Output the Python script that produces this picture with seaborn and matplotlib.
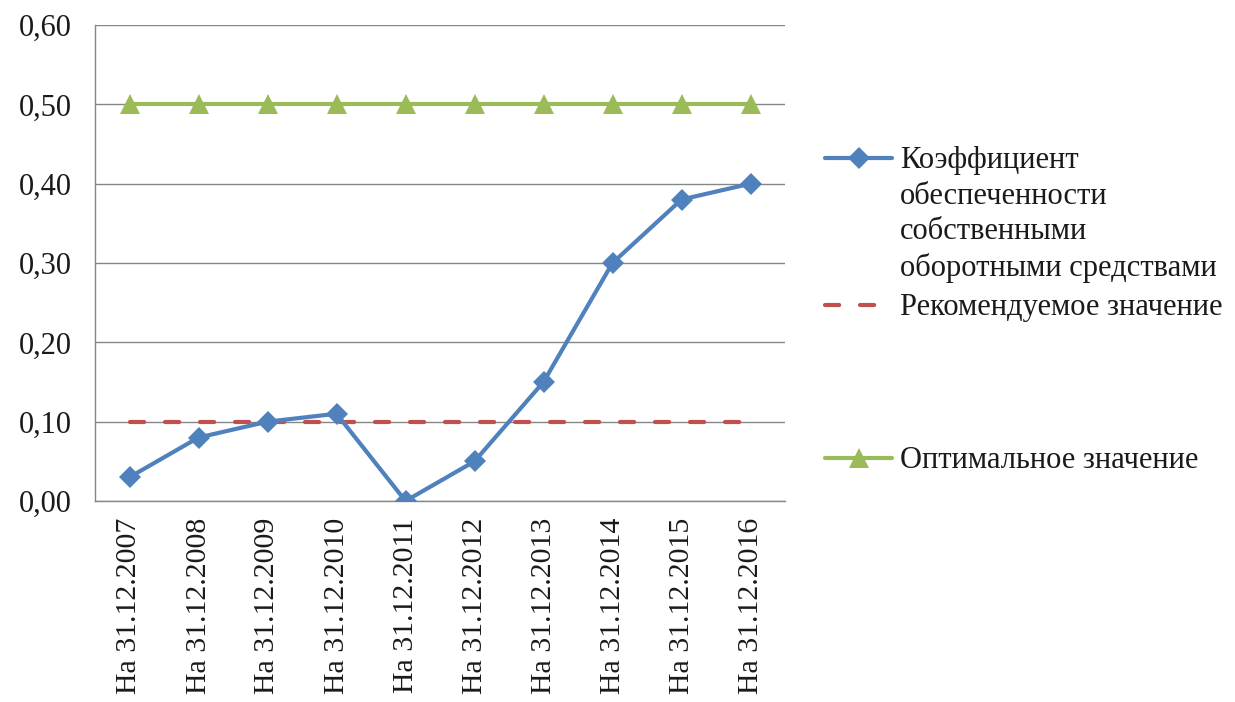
import matplotlib
matplotlib.use("Agg")
import matplotlib.pyplot as plt
from matplotlib.lines import Line2D
from matplotlib.ticker import FixedLocator, FuncFormatter, NullFormatter
import numpy as np
import pandas as pd
import seaborn as sns

categories = ["На 31.12.2007", "На 31.12.2008", "На 31.12.2009", "На 31.12.2010",
              "На 31.12.2011", "На 31.12.2012", "На 31.12.2013", "На 31.12.2014",
              "На 31.12.2015", "На 31.12.2016"]
coef_values = [0.03, 0.08, 0.10, 0.11, 0.00, 0.05, 0.15, 0.30, 0.38, 0.40]
recommended_values = [0.10] * 10
optimal_values = [0.50] * 10
y_ticks = [0.0, 0.1, 0.2, 0.3, 0.4, 0.5, 0.6]

series_names = ["Коэффициент\nобеспеченности\nсобственными\nоборотными средствами",
                "Рекомендуемое значение",
                "Оптимальное значение"]

BLUE = "#4F81BD"
RED = "#C0504D"
GREEN = "#9BBB59"
GRID = "#868686"
TEXT = "#1a1a1a"
FONT = ["Liberation Serif", "DejaVu Serif"]
FS = 22
RED_DASH = [3.4, 5]

sns.set_theme(style="white")
plt.rcParams["font.family"] = FONT

pos = np.arange(len(categories))
df = pd.DataFrame({"pos": pos, "coef": coef_values,
                   "rec": recommended_values, "opt": optimal_values})

fig = plt.figure(figsize=(12.35, 7.02), dpi=100)
ax = fig.add_axes([95 / 1235, 1 - 501 / 702, 690 / 1235, 476 / 702])

sns.lineplot(data=df, x="pos", y="opt", ax=ax, color=GREEN, linewidth=3,
             marker="^", markersize=15, markeredgewidth=0, sort=False, zorder=3)
sns.lineplot(data=df, x="pos", y="rec", ax=ax, color=RED, linewidth=3,
             dashes=False, sort=False, zorder=3)
ax.lines[-1].set_dashes(RED_DASH)
ax.lines[-1].set_dash_capstyle("round")
sns.lineplot(data=df, x="pos", y="coef", ax=ax, color=BLUE, linewidth=3,
             marker="D", markersize=11, markeredgewidth=0, sort=False, zorder=4)

ax.set_xlim(-0.5, len(categories) - 0.5)
ax.set_ylim(0, 0.6)
ax.set_xlabel("")
ax.set_ylabel("")

ax.yaxis.set_major_locator(FixedLocator(y_ticks))
ax.yaxis.set_major_formatter(FuncFormatter(lambda v, p: f"{v:.2f}".replace(".", ",")))
ax.grid(axis="y", color=GRID, linewidth=1)
ax.set_axisbelow(True)

ax.xaxis.set_major_locator(FixedLocator(np.arange(-0.5, len(categories), 1.0)))
ax.xaxis.set_major_formatter(NullFormatter())
ax.xaxis.set_minor_locator(FixedLocator(pos))
ax.set_xticklabels(categories, minor=True, rotation=90)
ax.tick_params(axis="x", which="minor", length=0, pad=12, labelsize=21.5,
               labelcolor=TEXT, labelfontfamily="Liberation Serif")
ax.tick_params(axis="x", which="major", length=7, width=1, color=GRID, direction="out")
ax.tick_params(axis="y", length=7, width=1, color=GRID, direction="out", labelsize=FS,
               pad=10, labelcolor=TEXT, labelfontfamily="Liberation Serif")

for side in ["top", "right"]:
    ax.spines[side].set_visible(False)
for side in ["left", "bottom"]:
    ax.spines[side].set_color(GRID)
    ax.spines[side].set_linewidth(1)

# legend, drawn in figure pixel coordinates
def fx(px):
    return px / 1235

def fy(py):
    return 1 - py / 702

legend_rows = [
    (158, dict(color=BLUE, marker="D", ms=11), series_names[0]),
    (305, dict(color=RED), series_names[1]),
    (458, dict(color=GREEN, marker="^", ms=15), series_names[2]),
]
for y_px, style, text in legend_rows:
    line = Line2D([fx(825), fx(892)], [fy(y_px), fy(y_px)], transform=fig.transFigure,
                  color=style["color"], lw=3)
    if "marker" not in style:
        line.set_dashes(RED_DASH)
        line.set_dash_capstyle("round")
    fig.add_artist(line)
    if "marker" in style:
        fig.add_artist(Line2D([fx(858.5)], [fy(y_px)], transform=fig.transFigure,
                              color=style["color"], marker=style["marker"],
                              ms=style["ms"], mew=0, linestyle="none"))
    fig.text(fx(900), fy(y_px - 12), text, ha="left", va="top", fontsize=FS,
             color=TEXT, linespacing=1.3, fontfamily=FONT)

fig.savefig("out.png", dpi=100, facecolor="white")
